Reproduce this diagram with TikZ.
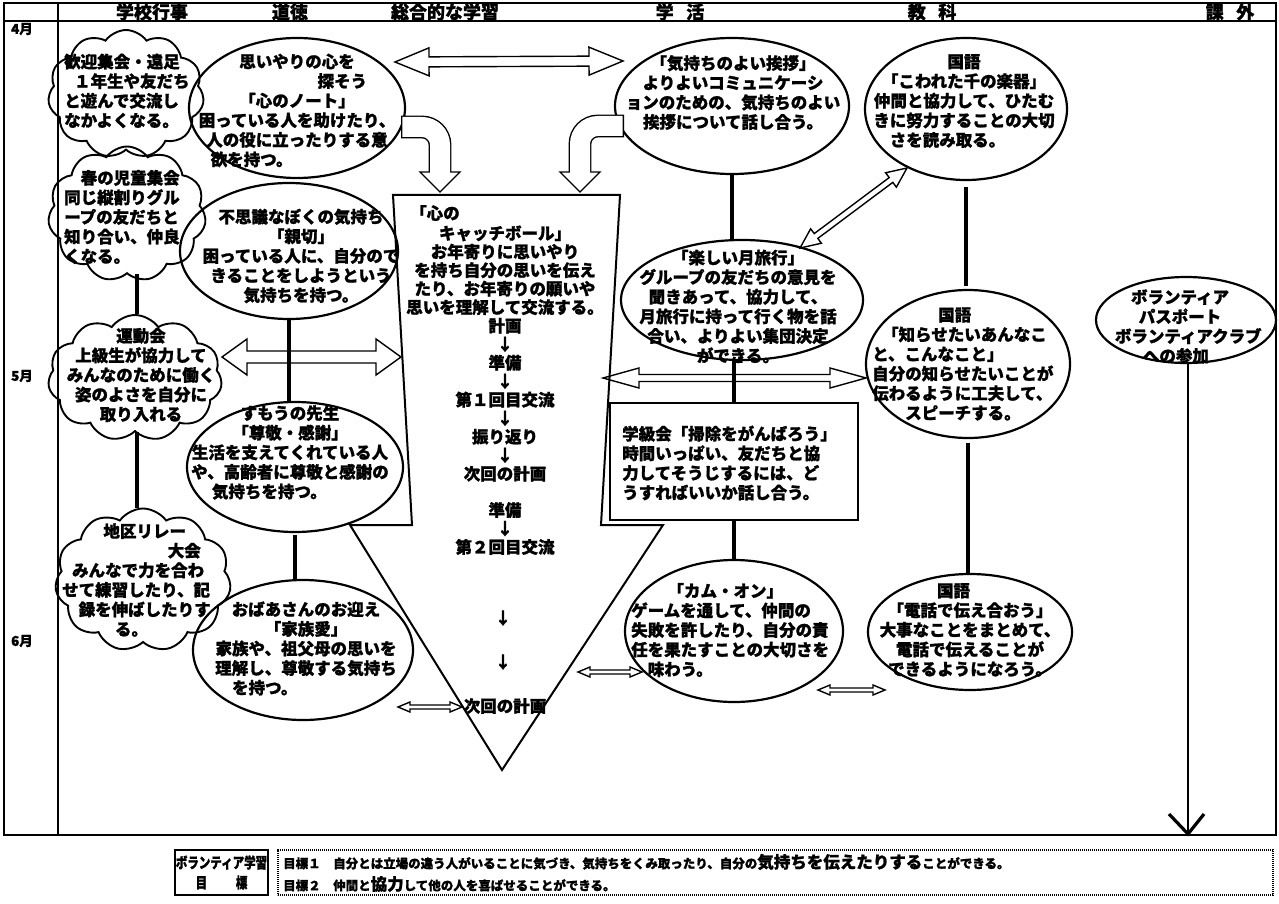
\documentclass[tikz,border=0pt]{standalone}
\usepackage{fontspec}
\usepackage{graphicx}
\setmainfont{Noto Sans CJK JP}[BoldFeatures={FakeBold=1.2}]
\usetikzlibrary{shapes.geometric,shapes.symbols,calc}
\newcommand\jtext{\fontsize{16.5}{19.6}\selectfont\bfseries}
\newcommand\jarr{\fontsize{16.5}{18.5}\selectfont\bfseries}
\newcommand\hdbl[5]{%
 \coordinate (hA) at ($(#1)!#4!(#2)$);
 \coordinate (hB) at ($(#2)!#4!(#1)$);
 \draw[hol] (#1) -- ($(hA)!#5!90:(#2)$) -- ($(hA)!#3!90:(#2)$) -- ($(hB)!#3!-90:(#1)$) -- ($(hB)!#5!-90:(#1)$) -- (#2) -- ($(hB)!#5!90:(#1)$) -- ($(hB)!#3!90:(#1)$) -- ($(hA)!#3!-90:(#2)$) -- ($(hA)!#5!-90:(#2)$) -- cycle;}
\begin{document}
\begin{tikzpicture}[x=1pt,y=-1pt,
 ell/.style={ellipse, draw, line width=2.2pt, inner sep=0pt},
 cl/.style={cloud, draw, line width=1.9pt, cloud puffs=11, cloud puff arc=110, cloud ignores aspect, inner sep=0pt},
 jt/.style={align=center, inner sep=0pt, font=\jtext},
 jl/.style={align=left, inner sep=0pt, font=\jtext, anchor=west},
 ja/.style={align=center, inner sep=0pt, font=\jarr},
 bar/.style={line width=3.8pt},
 hol/.style={draw, fill=white, line width=1.4pt, line join=miter},
 hd/.style={inner sep=0pt, font=\fontsize{18}{18}\selectfont\bfseries},
 mo/.style={inner sep=0pt, font=\fontsize{13.5}{14}\selectfont\bfseries},
]
\useasboundingbox (0,0) rectangle (1279,904);
\fill[white] (0,0) rectangle (1279,904);
% frame
\draw[line width=1.6pt] (4,3) rectangle (1276,835);
\draw[line width=1.6pt] (4,21) -- (1276,21);
\draw[line width=2.6pt] (58,3) -- (58,835);
\node[hd] (h1) at (152,12) {学校行事};
\node[hd] (h2) at (290,12) {道徳};
\node[hd] (h3) at (445,12) {総合的な学習};
\node[hd] (h4) at (680,12) {学\hspace{0.7em}活};
\node[hd] (h5) at (932,12) {教\hspace{0.7em}科};
\node[hd] (h6) at (1230,12) {課\hspace{0.7em}外};
\node[mo] (m4) at (22,29) {4月};
\node[mo] (m5) at (22,376) {5月};
\node[mo] (m6) at (22,641) {6月};
% clouds
\node[cl, minimum width=156pt, minimum height=128pt] (C1) at (126,94) {};
\node[cl, minimum width=158pt, minimum height=135pt] (C2) at (127,214) {};
\node[cl, minimum width=174pt, minimum height=126pt] (C3) at (135,378) {};
\node[cl, minimum width=176pt, minimum height=143pt] (C4) at (143,580) {};
\coordinate (cbx) at (137,300);
\draw[bar] (C2.south -| cbx) -- (C3.north -| cbx);
\draw[bar] (C3.south -| cbx) -- (C4.north -| cbx);
% ellipses
\node[ell, minimum width=216pt, minimum height=140pt] (E1) at (297,108) {};
\node[ell, minimum width=218pt, minimum height=136pt] (E2) at (289,251) {};
\node[ell, minimum width=216pt, minimum height=130pt] (E3) at (295,467) {};
\node[ell, minimum width=220pt, minimum height=140pt] (E4) at (303,650) {};
\node[ell, minimum width=234pt, minimum height=136pt] (G1) at (732,106) {};
\node[ell, minimum width=242pt, minimum height=120pt] (G2) at (742,300) {};
\node[draw, line width=2.2pt, minimum width=248pt, minimum height=117pt, inner sep=0pt] (R) at (734,461.5) {};
\node[ell, minimum width=218pt, minimum height=142pt] (G3) at (734,631) {};
\node[ell, minimum width=202pt, minimum height=142pt] (K1) at (966,109) {};
\node[ell, minimum width=204pt, minimum height=148pt] (K2) at (968,364) {};
\node[ell, minimum width=204pt, minimum height=116pt] (K3) at (970,632) {};
\node[ell, minimum width=180pt, minimum height=86pt] (V) at (1186,320) {};
% hollow arrows
\coordinate (ta1) at (395,62); \coordinate (ta2) at (623,61);
\hdbl{ta1}{ta2}{5pt}{34pt}{14pt}
\coordinate (ma1) at (222,357); \coordinate (ma2) at (401,357);
\hdbl{ma1}{ma2}{6pt}{25pt}{18pt}
\coordinate (da1) at (800,248); \coordinate (da2) at (907,168);
\hdbl{da1}{da2}{3pt}{20pt}{9pt}
\coordinate (ga1) at (603,378); \coordinate (ga2) at (866,378);
\hdbl{ga1}{ga2}{3.5pt}{36pt}{10pt}
\coordinate (s1a) at (398,707); \coordinate (s1b) at (462,707);
\hdbl{s1a}{s1b}{2pt}{12pt}{5pt}
\coordinate (s2a) at (578,672); \coordinate (s2b) at (642,672);
\hdbl{s2a}{s2b}{2pt}{12pt}{5pt}
\coordinate (s3a) at (818,690); \coordinate (s3b) at (885,690);
\hdbl{s3a}{s3b}{2pt}{12pt}{5pt}
% bars
\draw[bar] (E2.south) -- (E2.south |- E3.north);
\draw[bar, shorten <=2pt] (E3.south) -- (E3.south |- E4.north);
\draw[bar] (G1.south) -- (G1.south |- G2.north);
\draw[bar] (G2.south -| R.north) -- (R.north);
\draw[bar] (R.south) -- (R.south |- G3.north);
\draw[bar, shorten <=6pt, shorten >=3pt] (K1.south) -- (K1.south |- K2.north);
\draw[bar, shorten <=4pt] (K2.south) -- (K2.south |- K3.north);
\coordinate (Vend) at (1188,834);
\draw[line width=2.8pt] (V.south -| Vend) -- (Vend);
\draw[line width=3.2pt] ($(Vend)+(-19,-20)$) -- (Vend) -- ($(Vend)+(16,-20)$);
% big arrow
\coordinate (ba1) at (393,195); \coordinate (ba2) at (620,195);
\coordinate (ba3) at (601,525); \coordinate (ba4) at (663,525);
\coordinate (ba5) at (502,770); \coordinate (ba6) at (350,525);
\coordinate (ba7) at (412,525);
\draw[line width=2pt, line join=miter] (ba1) -- (ba2) -- (ba3) -- (ba4) -- (ba5) -- (ba6) -- (ba7) -- cycle;
% bent arrows
\coordinate (bl0) at (401,127); \coordinate (bl1) at (440,127);
\coordinate (bl2) at (440,172); \coordinate (blt) at (440,192);
\draw[hol] ($(bl2)+(-20,0)$) -- (blt) -- ($(bl2)+(20,0)$) -- cycle;
\draw[line width=22.8pt, rounded corners=18pt] (bl0) -- (bl1) -- (bl2);
\draw[white, line width=20pt, rounded corners=18pt] ($(bl0)+(1.4,0)$) -- (bl1) -- ($(bl2)+(0,1.5)$);
\coordinate (br0) at (624,126); \coordinate (br1) at (580,126);
\coordinate (br2) at (580,172); \coordinate (brt) at (580,192);
\draw[hol] ($(br2)+(-20,0)$) -- (brt) -- ($(br2)+(20,0)$) -- cycle;
\draw[line width=22.8pt, rounded corners=18pt] (br0) -- (br1) -- (br2);
\draw[white, line width=20pt, rounded corners=18pt] ($(br0)+(-1.4,0)$) -- (br1) -- ($(br2)+(0,1.5)$);
% texts
\node[jl] (C1t) at (64,91) {歓迎集会・遠足\\\hspace*{0.6em}１年生や友だち\\と遊んで交流し\\なかよくなる。};
\node[jl] (C2t) at (64,217) {\hspace*{1em}春の児童集会\\同じ縦割りグル\\ープの友だちと\\知り合い、仲良\\くなる。};
\node[jt] (C3t) at (141,375) {運動会\\上級生が協力して\\みんなのために働く\\姿のよさを自分に\\取り入れる};
\node[jl] (C4t) at (62,580) {\hspace*{2.5em}地区リレー\\\hspace*{6.4em}大会\\\hspace*{0.6em}みんなで力を合わ\\せて練習したり、記\\\hspace*{1em}録を伸ばしたりす\\\hspace*{3.2em}る。};
\node[jt] (E1t) at (297,110.5) {思いやりの心を\\\hspace*{5.5em}探そう\\「心のノート」\hspace*{2.5em}\\困っている人を助けたり、\\人の役に立ったりする意\\欲を持つ。\hspace*{5.5em}};
\node[jt] (E2t) at (301,256) {不思議なぼくの気持ち\\「親切」\\困っている人に、自分ので\\きることをしようという\\気持ちを持つ。};
\node[jt] (E3t) at (290,452.5) {すもうの先生\\「尊敬・感謝」\\生活を支えてくれている人\\や、高齢者に尊敬と感謝の\\気持ちを持つ。\hspace*{2.5em}};
\node[jt] (E4t) at (306,648.5) {おばあさんのお迎え\\「家族愛」\\家族や、祖父母の思いを\\理解し、尊敬する気持ち\\を持つ。\hspace*{5em}};
\node[jl] (A0t) at (410,213) {「心の};
\node[ja] (A1t) at (505,353.5) {キャッチボール」\\お年寄りに思いやり\\を持ち自分の思いを伝え\\たり、お年寄りの願いや\\思いを理解して交流する。\\計画\\↓\\準備\\↓\\第１回目交流\\↓\\振り返り\\↓\\次回の計画};
\node[ja] (A2t) at (505,528.5) {準備\\↓\\第２回目交流};
\node[ja] (A3t) at (503,618) {↓};
\node[ja] (A4t) at (503,662) {↓};
\node[ja] (A5t) at (505,706) {次回の計画};
\node[jt] (G1t) at (733,92.5) {「気持ちのよい挨拶」\\よりよいコミュニケーシ\\ョンのための、気持ちのよい\\挨拶について話し合う。};
\node[jt] (G2t) at (738,306.5) {「楽しい月旅行」\\グループの友だちの意見を\\聞きあって、協力して、\\月旅行に持って行く物を話\\合い、よりよい集団決定\\ができる。};
\node[jl] (Rt) at (622,463) {学級会「掃除をがんばろう」\\時間いっぱい、友だちと協\\力してそうじするには、ど\\うすればいいか話し合う。};
\node[jl] (G3t) at (631,630) {\hspace*{2.2em}「カム・オン」\\ゲームを通して、仲間の\\失敗を許したり、自分の責\\任を果たすことの大切さを\\\hspace*{1em}味わう。};
\node[jt] (K1t) at (964,101) {国語\\「こわれた千の楽器」\\仲間と協力して、ひたむ\\きに努力することの大切\\さを読み取る。\hspace*{2em}};
\node[jl] (K2t) at (872,364) {\hspace*{4em}国語\\\hspace*{0.6em}「知らせたいあんなこ\\と、こんなこと」\\自分の知らせたいことが\\伝わるように工夫して、\\\hspace*{2em}スピーチする。};
\node[jt] (K3t) at (970,630) {国語\hspace*{2em}\\「電話で伝え合おう」\\大事なことをまとめて、\\電話で伝えることが\hspace*{2em}\\できるようになろう。};
\node[jt] (Vt) at (1180,326.5) {ボランティア\\パスポート\\\hspace*{1em}ボランティアクラブ\\への参加\hspace*{0.5em}};
% legend
\node[draw, line width=1.6pt, minimum width=93pt, minimum height=45pt, inner sep=0pt] (gl) at (221.5,872.5) {};
\node[align=center, inner sep=0pt, font=\fontsize{11.5}{20}\selectfont\bfseries] (glt) at (221.5,872.5) {\scalebox{1}[1.3]{ボランティア学習}\\\scalebox{1}[1.3]{目\hspace{2.5em}標}};
\node[draw, line width=1.8pt, dash pattern=on 1.2pt off 0.8pt, minimum width=995pt, minimum height=45pt, inner sep=0pt] (gr) at (775.5,872.5) {};
\node[anchor=west, inner sep=0pt, font=\fontsize{12.5}{14}\selectfont\bfseries] (g1t) at (283,862) {目標１　自分とは立場の違う人がいることに気づき、気持ちをくみ取ったり、自分の{\fontsize{16.5}{18}\selectfont 気持ちを伝えたりする}ことができる。};
\node[anchor=west, inner sep=0pt, font=\fontsize{12.5}{14}\selectfont\bfseries] (g2t) at (283,884) {目標２　仲間と{\fontsize{16.5}{18}\selectfont 協力}して他の人を喜ばせることができる。};
\end{tikzpicture}
\end{document}
